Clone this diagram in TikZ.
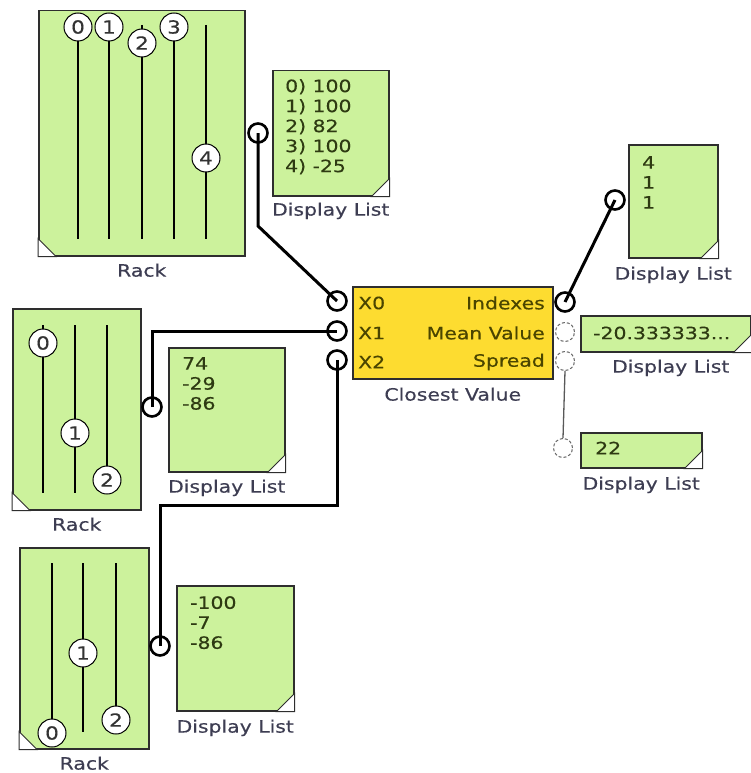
\documentclass[tikz,border=0pt]{standalone}
\usepackage{fontspec}
\setmainfont{DejaVu Sans}[FakeStretch=1.2, FakeBold=0.35]
\usetikzlibrary{positioning}

\definecolor{panel}{HTML}{CCF29C}
\definecolor{block}{HTML}{FDDC30}
\definecolor{boxline}{HTML}{2E2E2E}
\definecolor{captext}{HTML}{3D3D52}
\definecolor{valtext}{HTML}{2E3A12}
\definecolor{blocktext}{HTML}{4A4500}

\tikzset{
  rackbox/.style={draw=boxline, line width=1.5pt, fill=panel, anchor=north west, inner sep=0pt},
  listbox/.style={rackbox},
  calcbox/.style={draw=boxline, line width=1.5pt, fill=block, anchor=north west, inner sep=0pt},
  caption/.style={inner sep=0pt, text=captext},
  vals/.style={inner sep=0pt, text=valtext, align=left, anchor=north west},
  pinlbl/.style={inner sep=0pt, text=blocktext},
  slider/.style={line width=1.5pt},
  knob/.style={circle, draw, line width=1pt, fill=white, minimum size=28pt, inner sep=0pt,
    font=\fontsize{18}{18}\selectfont, text=black!80},
  port/.style={circle, draw, line width=2.6pt, fill=white, minimum size=19pt, inner sep=0pt},
  openport/.style={circle, draw=black!60, densely dashed, line width=1pt, fill=white,
    minimum size=19pt, inner sep=0pt},
  wire/.style={line width=3pt},
  thinwire/.style={line width=1.3pt, draw=black!65}
}

\begin{document}
\begin{tikzpicture}[x=1pt, y=-1pt, every node/.style={font=\fontsize{17}{20}\selectfont}]
  \useasboundingbox (0,0) rectangle (750,773);

  % boxes
  \node[rackbox, minimum width=206pt, minimum height=245pt] (rackA) at (38,10) {};
  \node[rackbox, minimum width=128pt, minimum height=201pt] (rackB) at (12,308) {};
  \node[rackbox, minimum width=129pt, minimum height=201pt] (rackC) at (19,547) {};
  \node[listbox, minimum width=116pt, minimum height=125pt] (listA) at (272,70) {};
  \node[listbox, minimum width=116pt, minimum height=124pt] (listB) at (168,347) {};
  \node[listbox, minimum width=117pt, minimum height=125pt] (listC) at (176,585) {};
  \node[listbox, minimum width=89pt, minimum height=113pt] (listIdx) at (628,144) {};
  \node[listbox, minimum width=170pt, minimum height=36pt] (listMean) at (580,315) {};
  \node[listbox, minimum width=121pt, minimum height=35pt] (listSpread) at (580,432) {};
  \node[calcbox, minimum width=200pt, minimum height=92pt] (closest) at (352,286) {};

  % corner marks
  \foreach \b in {listA,listB,listC,listIdx,listMean,listSpread}
    \filldraw[fill=white, draw=boxline, line width=1pt]
      ([xshift=-18pt]\b.south east) -- (\b.south east) -- ([yshift=18pt]\b.south east) -- cycle;
  \foreach \b in {rackA,rackB,rackC}
    \filldraw[fill=white, draw=boxline, line width=1pt]
      ([xshift=18pt]\b.south west) -- (\b.south west) -- ([yshift=18pt]\b.south west) -- cycle;

  % captions
  \node[caption, below=7pt of rackA] (capRackA) {Rack};
  \node[caption, below=7pt of rackB] (capRackB) {Rack};
  \node[caption, below=7pt of rackC] (capRackC) {Rack};
  \node[caption, below=6pt of listA] (capListA) {Display List};
  \node[caption, below=7pt of listB] (capListB) {Display List};
  \node[caption, below=8pt of listC] (capListC) {Display List};
  \node[caption, below=8pt of listIdx] (capListIdx) {Display List};
  \node[caption, below=7pt of listMean, xshift=5pt] (capListMean) {Display List};
  \node[caption, below=8pt of listSpread] (capListSpread) {Display List};
  \node[caption, below=8pt of closest] (capClosest) {Closest Value};

  % sliders of the racks
  \foreach \x in {78,109,142,174,206}
    \draw[slider] (\x,25) -- (\x,239);
  \foreach \x in {43,75,107}
    \draw[slider] (\x,325) -- (\x,493);
  \foreach \x in {52,83,116}
    \draw[slider] (\x,563) -- (\x,732);

  \node[knob] (kA0) at (78,27)  {0};
  \node[knob] (kA1) at (109,27) {1};
  \node[knob] (kA2) at (142,43) {2};
  \node[knob] (kA3) at (174,27) {3};
  \node[knob] (kA4) at (206,158) {4};
  \node[knob] (kB0) at (43,343) {0};
  \node[knob] (kB1) at (75,433) {1};
  \node[knob] (kB2) at (107,480) {2};
  \node[knob] (kC0) at (52,733) {0};
  \node[knob] (kC1) at (83,653) {1};
  \node[knob] (kC2) at (116,720) {2};

  % values
  \node[vals] (valA) at (285,79) {0) 100\\1) 100\\2) 82\\3) 100\\4) -25};
  \node[vals] (valB) at (182,357) {74\\-29\\-86};
  \node[vals] (valC) at (190,596) {-100\\-7\\-86};
  \node[vals] (valIdx) at (642,156) {4\\1\\1};
  \node[vals, anchor=west] (valMean) at (593,333) {-20.333333...};
  \node[vals, anchor=west] (valSpread) at (595,448) {22};

  % pins of the block
  \node[pinlbl, anchor=west] (tX0) at (358,303) {X0};
  \node[pinlbl, anchor=west] (tX1) at (358,333) {X1};
  \node[pinlbl, anchor=west] (tX2) at (358,362) {X2};
  \node[pinlbl, anchor=east] (tIdx) at (545,303) {Indexes};
  \node[pinlbl, anchor=east] (tMean) at (545,333) {Mean Value};
  \node[pinlbl, anchor=east] (tSpread) at (545,362) {Spread};

  % ports
  \node[port] (inX0) at (337,301) {};
  \node[port] (inX1) at (337,331) {};
  \node[port] (inX2) at (337,360) {};
  \node[port] (outIdx) at (565,302) {};
  \node[openport] (outMean) at (565,332) {};
  \node[openport] (outSpread) at (565,361) {};
  \node[port] (pRackA) at (258,133) {};
  \node[port] (pRackB) at (152,407) {};
  \node[port] (pRackC) at (160,646) {};
  \node[port] (pIdx) at (615,200) {};
  \node[openport] (pSpread) at (563,448) {};

  % wires
  \coordinate (bendA) at (258,226);
  \coordinate (bendC) at (337,505);
  \draw[wire] (pRackA.center) -- (bendA) -- (inX0.center);
  \draw[wire] (pRackB.center) |- (inX1.center);
  \draw[wire] (pRackC.center) |- (bendC) -- (inX2.center);
  \draw[wire] (outIdx.center) -- (pIdx.center);
  \draw[thinwire] (outSpread.south) -- (pSpread.north);
\end{tikzpicture}
\end{document}
